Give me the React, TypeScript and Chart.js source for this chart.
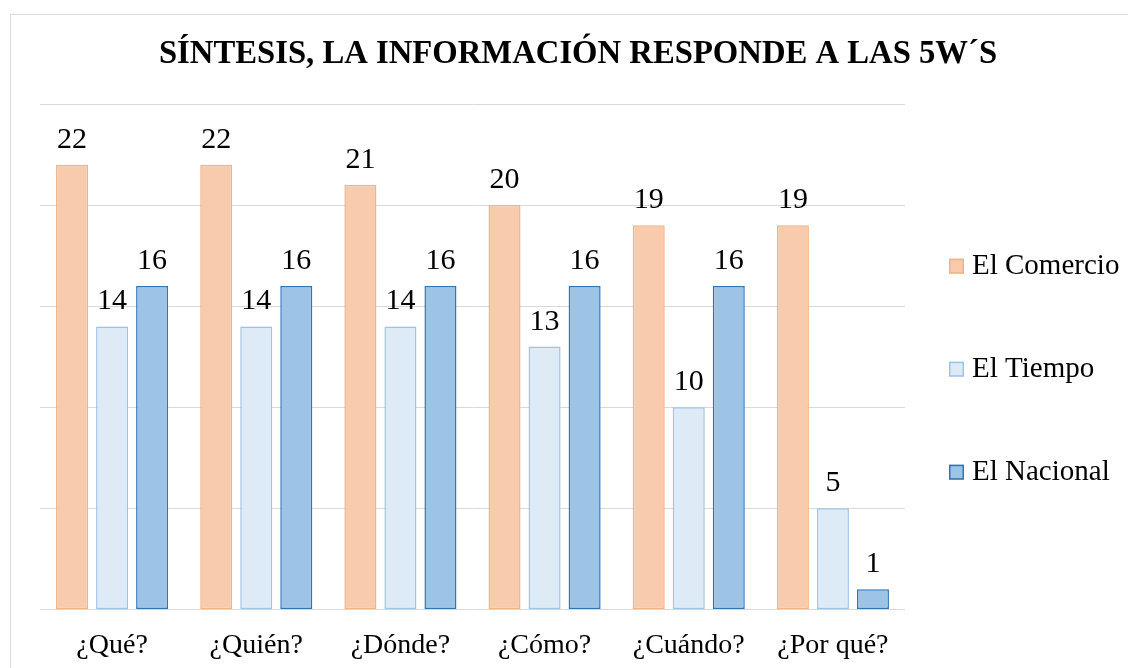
import React, { useEffect, useRef } from "react";
import { Chart, registerables } from "chart.js";

Chart.register(...registerables);

const categories = ["¿Qué?", "¿Quién?", "¿Dónde?", "¿Cómo?", "¿Cuándo?", "¿Por qué?"];
const elComercio = [22, 22, 21, 20, 19, 19];
const elTiempo = [14, 14, 14, 13, 10, 5];
const elNacional = [16, 16, 16, 16, 16, 1];
const seriesNames = ["El Comercio", "El Tiempo", "El Nacional"];
const titleText = "SÍNTESIS, LA INFORMACIÓN RESPONDE A LAS 5W´S";

const FONT = '"Liberation Serif", "Times New Roman", serif';

const dataLabels = {
  id: "dataLabels",
  afterDatasetsDraw(chart: any) {
    const ctx = chart.ctx;
    ctx.save();
    ctx.font = `30px ${FONT}`;
    ctx.fillStyle = "#000";
    ctx.textAlign = "center";
    ctx.textBaseline = "alphabetic";
    chart.data.datasets.forEach((ds: any, i: number) => {
      const meta = chart.getDatasetMeta(i);
      meta.data.forEach((bar: any, j: number) => {
        ctx.fillText(String(ds.data[j]), bar.x, bar.y - 17);
      });
    });
    ctx.restore();
  },
};

const titleAndLegend = {
  id: "titleAndLegend",
  afterDraw(chart: any) {
    const ctx = chart.ctx;
    ctx.save();
    // title
    ctx.font = `bold 32.7px ${FONT}`;
    ctx.fillStyle = "#000";
    ctx.textAlign = "center";
    ctx.textBaseline = "middle";
    ctx.fillText(titleText, 567, 40);
    // legend
    ctx.font = `29px ${FONT}`;
    ctx.textAlign = "left";
    ctx.textBaseline = "middle";
    const x = chart.chartArea.right + 44;
    const yMid = (chart.chartArea.top + chart.chartArea.bottom) / 2 + 12;
    const spacing = 103;
    chart.data.datasets.forEach((ds: any, i: number) => {
      const cy = yMid + (i - 1) * spacing;
      ctx.fillStyle = ds.backgroundColor;
      ctx.fillRect(x, cy - 7, 15, 15);
      ctx.strokeStyle = ds.borderColor;
      ctx.lineWidth = 1.5;
      ctx.strokeRect(x + 0.75, cy - 6.25, 13.5, 13.5);
      ctx.fillStyle = "#000";
      ctx.fillText(ds.label, x + 23, cy + 1);
    });
    ctx.restore();
  },
};

export default function App() {
  const ref = useRef<HTMLCanvasElement>(null);
  useEffect(() => {
    if (!ref.current) return;
    const chart = new Chart(ref.current, {
      type: "bar",
      data: {
        labels: categories,
        datasets: [
          { label: seriesNames[0], data: elComercio, backgroundColor: "#F8CBAD", borderColor: "#F4B183" },
          { label: seriesNames[1], data: elTiempo, backgroundColor: "#DEEBF7", borderColor: "#9DC3E6" },
          { label: seriesNames[2], data: elNacional, backgroundColor: "#9DC3E6", borderColor: "#2E75B6" },
        ].map((d) => ({
          ...d,
          borderWidth: 1.5,
          borderSkipped: false,
          categoryPercentage: 0.833,
          barPercentage: 0.8,
        })),
      },
      plugins: [dataLabels, titleAndLegend],
      options: {
        responsive: false,
        animation: false,
        layout: { padding: { left: 29, right: 238, top: 89, bottom: 5 } },
        plugins: {
          legend: { display: false },
          tooltip: { enabled: false },
          title: { display: false },
        },
        scales: {
          x: {
            grid: { display: false, drawTicks: false },
            border: { display: false },
            ticks: { color: "#000", font: { family: FONT, size: 28, lineHeight: 1.2 }, padding: 19 },
          },
          y: {
            min: 0,
            max: 25,
            ticks: { display: false, stepSize: 5 },
            grid: { color: "#D9D9D9", lineWidth: 1, drawTicks: false },
            border: { display: false },
          },
        },
      },
    });
    return () => chart.destroy();
  }, []);

  return (
    <div style={{ position: "fixed", inset: 0, overflow: "hidden", background: "#fff" }}>
      <div
        style={{
          position: "absolute",
          left: 10,
          top: 14,
          width: 1150,
          height: 720,
          border: "1px solid #D9D9D9",
          boxSizing: "border-box",
        }}
      >
        <canvas ref={ref} width={1132} height={671} style={{ position: "absolute", left: 0, top: 0 }} />
      </div>
    </div>
  );
}
